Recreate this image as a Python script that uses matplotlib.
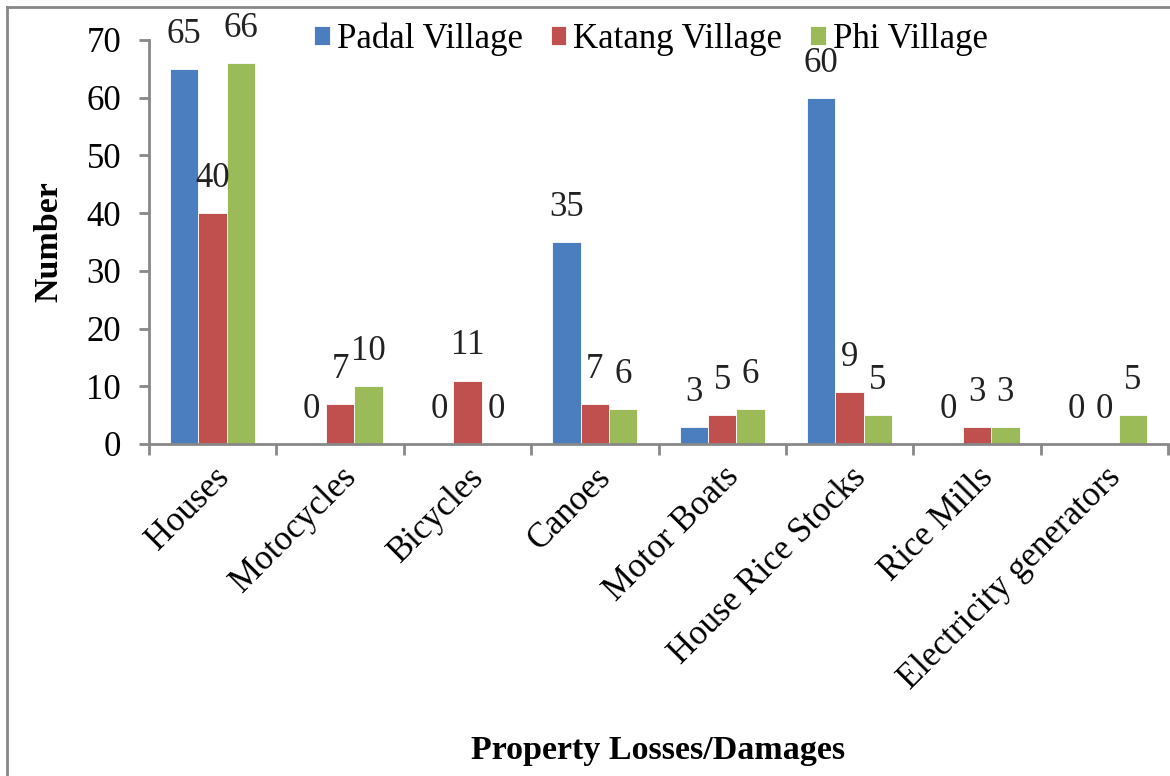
import matplotlib
matplotlib.use("Agg")
import matplotlib.pyplot as plt
import numpy as np

categories = ["Houses", "Motocycles", "Bicycles", "Canoes", "Motor Boats",
              "House Rice Stocks", "Rice Mills", "Electricity generators"]
padal = [65, 0, 0, 35, 3, 60, 0, 0]
katang = [40, 7, 11, 7, 5, 9, 3, 0]
phi = [66, 10, 0, 6, 6, 5, 3, 5]
series_names = ["Padal Village", "Katang Village", "Phi Village"]
colors = ["#4A7EBF", "#C0504D", "#9BBB59"]

plt.rcParams['font.family'] = ['Liberation Serif', 'DejaVu Serif']
fs = 25

fig = plt.figure(figsize=(11.7, 7.76), dpi=100)
ax = fig.add_axes([149/1170, 1-444/776, (1168-149)/1170, (444-40)/776])

x = np.arange(len(categories))
w = 0.223
for k, (vals, name, c) in enumerate(zip([padal, katang, phi], series_names, colors)):
    pos = x + (k-1)*w
    ax.bar(pos, vals, w, color=c, edgecolor='white', linewidth=0.6, label=name)
    for p, v in zip(pos, vals):
        ax.annotate(str(v), (p, v), xytext=(0, 13), textcoords='offset points',
                    ha='center', va='bottom', fontsize=fs, color='#222222')

ax.set_xlim(-0.5, len(categories)-0.5)
ax.set_ylim(0, 70)
ax.set_yticks(range(0, 71, 10))
ax.tick_params(axis='y', labelsize=fs, length=7, width=2, color='#888888', pad=13)
ax.set_xticks(np.arange(-0.5, len(categories), 1.0))
ax.set_xticklabels([])
ax.set_xticks(x, minor=True)
ax.set_xticklabels(categories, minor=True, rotation=45, ha='right', va='top',
                   rotation_mode='anchor', fontsize=fs)
ax.tick_params(axis='x', which='major', length=8, width=2, color='#888888')
ax.tick_params(axis='x', which='minor', length=0, pad=12)
for s in ['top', 'right']:
    ax.spines[s].set_visible(False)
for s in ['left', 'bottom']:
    ax.spines[s].set_color('#888888')
    ax.spines[s].set_linewidth(2)

ax.set_ylabel("Number", fontsize=24.5, fontweight='bold', labelpad=16)
fig.text(658/1170, 1-750/776, "Property Losses/Damages", fontsize=24.5,
         fontweight='bold', ha='center', va='center')

ax.legend(loc='center', bbox_to_anchor=(651/1170, 1-39/776), bbox_transform=fig.transFigure,
          ncol=3, frameon=False, fontsize=fs, handlelength=0.45, handleheight=0.45,
          handletextpad=0.2, columnspacing=0.8)

# frame around the chart area
fig.add_artist(plt.Line2D([7/1170, 1], [1-7/776, 1-7/776], color='#888888', lw=2,
                          transform=fig.transFigure))
fig.add_artist(plt.Line2D([7/1170, 7/1170], [0, 1-7/776], color='#888888', lw=2,
                          transform=fig.transFigure))

fig.savefig("out.png")
plt.close()
